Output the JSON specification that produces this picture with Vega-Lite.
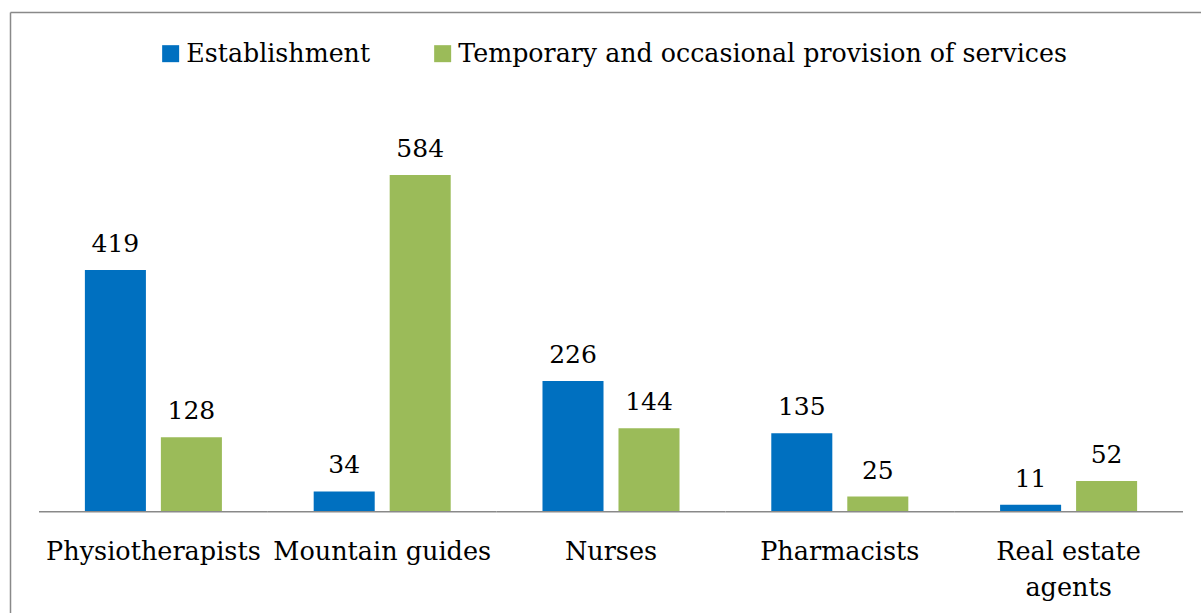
{
  "$schema": "https://vega.github.io/schema/vega-lite/v6.json",
  "width": 1191,
  "height": 601,
  "autosize": {"type": "none"},
  "padding": {"left": 10, "top": 12, "right": 0, "bottom": 0},
  "background": "white",
  "config": {"view": {"stroke": null}, "font": "DejaVu Serif"},
  "data": {
    "values": [
      {"category": "Physiotherapists", "series": "Establishment", "value": 419},
      {"category": "Physiotherapists", "series": "Temporary and occasional provision of services", "value": 128},
      {"category": "Mountain guides", "series": "Establishment", "value": 34},
      {"category": "Mountain guides", "series": "Temporary and occasional provision of services", "value": 584},
      {"category": "Nurses", "series": "Establishment", "value": 226},
      {"category": "Nurses", "series": "Temporary and occasional provision of services", "value": 144},
      {"category": "Pharmacists", "series": "Establishment", "value": 135},
      {"category": "Pharmacists", "series": "Temporary and occasional provision of services", "value": 25},
      {"category": "Real estate agents", "series": "Establishment", "value": 11},
      {"category": "Real estate agents", "series": "Temporary and occasional provision of services", "value": 52}
    ]
  },
  "layer": [
    {
      "mark": {"type": "bar"},
      "encoding": {
        "x": {
          "field": "category", "type": "nominal",
          "sort": ["Physiotherapists", "Mountain guides", "Nurses", "Pharmacists", "Real estate agents"],
          "scale": {"paddingInner": 0, "paddingOuter": 0.1027, "align": 0.617},
          "axis": {
            "orient": "bottom", "offset": -102, "domain": false, "ticks": false,
            "labelFontSize": 25.5, "labelFont": "DejaVu Serif", "labelColor": "black",
            "labelAngle": 0, "labelPadding": 48, "labelBaseline": "alphabetic",
            "labelLineHeight": 36, "labelOverlap": false, "labelBound": false, "labelFlush": false,
            "labelLimit": 0,
            "labelExpr": "datum.label == 'Real estate agents' ? ['Real estate', 'agents'] : datum.label",
            "title": null, "grid": false
          }
        },
        "xOffset": {
          "field": "series", "type": "nominal",
          "sort": ["Establishment", "Temporary and occasional provision of services"],
          "scale": {"paddingInner": 0.197, "paddingOuter": 0.6038}
        },
        "y": {
          "field": "value", "type": "quantitative",
          "scale": {"domain": [-177.3, 867.4], "nice": false, "zero": false},
          "axis": {
            "orient": "left", "domainColor": "#898989", "domainWidth": 1.5,
            "labels": false, "ticks": false, "grid": false, "title": null
          }
        },
        "y2": {"datum": 0},
        "color": {
          "field": "series", "type": "nominal",
          "sort": ["Establishment", "Temporary and occasional provision of services"],
          "scale": {"range": ["#0070C0", "#9BBB59"]},
          "legend": {
            "orient": "none", "legendX": 148, "legendY": 29, "direction": "horizontal",
            "title": null, "symbolType": "square", "symbolSize": 289, "symbolStrokeWidth": 0,
            "symbolOpacity": 1, "labelFontSize": 25.3, "labelFont": "DejaVu Serif",
            "labelColor": "black", "labelOffset": 3, "columnPadding": 59, "padding": 0,
            "labelLimit": 1000
          }
        }
      }
    },
    {
      "mark": {"type": "text", "baseline": "alphabetic", "dy": -18, "fontSize": 25, "font": "DejaVu Serif", "color": "black"},
      "encoding": {
        "x": {
          "field": "category", "type": "nominal",
          "sort": ["Physiotherapists", "Mountain guides", "Nurses", "Pharmacists", "Real estate agents"],
          "axis": null
        },
        "xOffset": {
          "field": "series", "type": "nominal",
          "sort": ["Establishment", "Temporary and occasional provision of services"]
        },
        "y": {"field": "value", "type": "quantitative"},
        "text": {"field": "value", "type": "quantitative"}
      }
    },
    {
      "data": {
        "values": [
          {"category": "Physiotherapists"},
          {"category": "Mountain guides"},
          {"category": "Nurses"},
          {"category": "Pharmacists"},
          {"category": "Real estate agents"}
        ]
      },
      "mark": {"type": "rect", "color": "#898989"},
      "encoding": {
        "x": {
          "field": "category", "type": "nominal",
          "sort": ["Physiotherapists", "Mountain guides", "Nurses", "Pharmacists", "Real estate agents"],
          "axis": {
            "orient": "top", "domainColor": "#898989", "domainWidth": 1.5,
            "labels": false, "ticks": false, "grid": false, "title": null
          }
        },
        "y": {"datum": 0},
        "y2": {"datum": -2.8}
      }
    }
  ],
  "resolve": {"axis": {"x": "independent"}}
}
